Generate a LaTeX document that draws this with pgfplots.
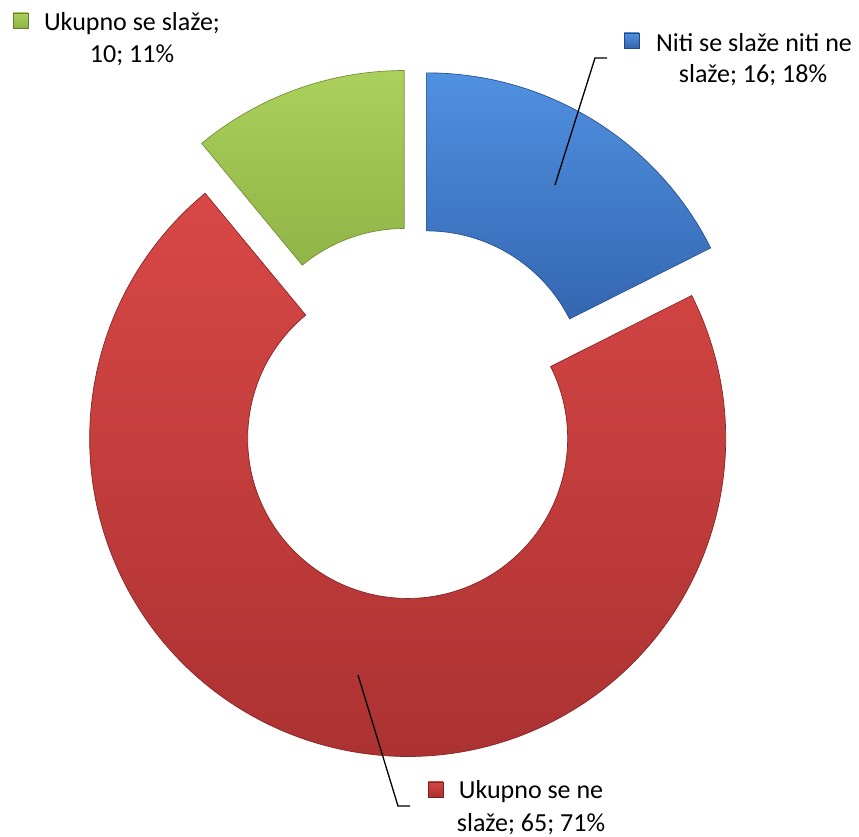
\documentclass[border=0pt]{standalone}
\usepackage{fontspec}
\setmainfont{Carlito}
\usepackage{pgfplots}
\usepackage{pgfplotstable}
\pgfplotsset{compat=1.18}
\usetikzlibrary{calc}

\definecolor{blueTop}{RGB}{80,145,225}
\definecolor{blueBot}{RGB}{52,102,176}
\definecolor{redTop}{RGB}{216,72,70}
\definecolor{redBot}{RGB}{168,48,48}
\definecolor{greenTop}{RGB}{172,208,92}
\definecolor{greenBot}{RGB}{144,180,70}

% slice values (clockwise from 12 o'clock)
\pgfplotstableread{
name value
niti 16
ne 65
se 10
}\donut

\begin{document}
\begin{tikzpicture}
\pgfplotstablegetelem{0}{value}\of\donut \let\va\pgfplotsretval
\pgfplotstablegetelem{1}{value}\of\donut \let\vb\pgfplotsretval
\pgfplotstablegetelem{2}{value}\of\donut \let\vc\pgfplotsretval
\pgfmathsetmacro\tot{\va+\vb+\vc}
\pgfmathsetmacro\aA{90}
\pgfmathsetmacro\aB{90-360*(\va/\tot)}
\pgfmathsetmacro\aC{90-360*((\va+\vb)/\tot)}
\pgfmathsetmacro\aD{-270}
\pgfmathsetmacro\mA{(\aA+\aB)/2}
\pgfmathsetmacro\mB{(\aB+\aC)/2}
\pgfmathsetmacro\mC{(\aC+\aD)/2}
\def\Ro{318bp}
\def\Ri{160bp}
\def\ex{26bp}
\def\lbl{\fontsize{26bp}{32bp}\selectfont}
\begin{axis}[
    hide axis,
    x=1bp, y=1bp,
    xmin=0, xmax=859,
    ymin=0, ymax=837,
    clip=false,
]
\path (axis cs:0,0) rectangle (axis cs:859,837);
\coordinate (O) at (axis cs:413,424);

% blue slice
\shade[top color=blueTop, bottom color=blueBot, draw=blueBot!80!black, line width=0.7bp]
  ($(O)+(\mA:\ex)+(\aA:\Ro)$) arc[start angle=\aA, end angle=\aB, radius=\Ro]
  -- ($(O)+(\mA:\ex)+(\aB:\Ri)$) arc[start angle=\aB, end angle=\aA, radius=\Ri] -- cycle;
% red slice
\shade[top color=redTop, bottom color=redBot, draw=redBot!80!black, line width=0.7bp]
  ($(O)+(\mB:\ex)+(\aB:\Ro)$) arc[start angle=\aB, end angle=\aC, radius=\Ro]
  -- ($(O)+(\mB:\ex)+(\aC:\Ri)$) arc[start angle=\aC, end angle=\aB, radius=\Ri] -- cycle;
% green slice
\shade[top color=greenTop, bottom color=greenBot, draw=greenBot!80!black, line width=0.7bp]
  ($(O)+(\mC:\ex)+(\aC:\Ro)$) arc[start angle=\aC, end angle=\aD, radius=\Ro]
  -- ($(O)+(\mC:\ex)+(\aD:\Ri)$) arc[start angle=\aD, end angle=\aC, radius=\Ri] -- cycle;

% leader lines
\draw[line width=1.3bp] (axis cs:607,779) -- (axis cs:595,779) -- (axis cs:555,652);
\draw[line width=1.3bp] (axis cs:358,162) -- (axis cs:398,31) -- (axis cs:410,31);

% labels
\shade[top color=greenTop, bottom color=greenBot, draw=greenBot!70!black, line width=0.5bp]
  (axis cs:13,809) rectangle (axis cs:28,824);
\node[anchor=base, inner sep=0pt, font=\lbl] at (axis cs:132,806) {Ukupno se slaže;};
\node[anchor=base, inner sep=0pt, font=\lbl] at (axis cs:132,774) {10; 11\%};

\shade[top color=blueTop, bottom color=blueBot, draw=blueBot!70!black, line width=0.5bp]
  (axis cs:624,789) rectangle (axis cs:639,804);
\node[anchor=base, inner sep=0pt, font=\lbl] at (axis cs:754,785) {Niti se slaže niti ne};
\node[anchor=base, inner sep=0pt, font=\lbl] at (axis cs:753,754) {slaže; 16; 18\%};

\shade[top color=redTop, bottom color=redBot, draw=redBot!70!black, line width=0.5bp]
  (axis cs:428,40) rectangle (axis cs:443,55);
\node[anchor=base, inner sep=0pt, font=\lbl] at (axis cs:531,38) {Ukupno se ne};
\node[anchor=base, inner sep=0pt, font=\lbl] at (axis cs:531,5) {slaže; 65; 71\%};
\end{axis}
\end{tikzpicture}
\end{document}
